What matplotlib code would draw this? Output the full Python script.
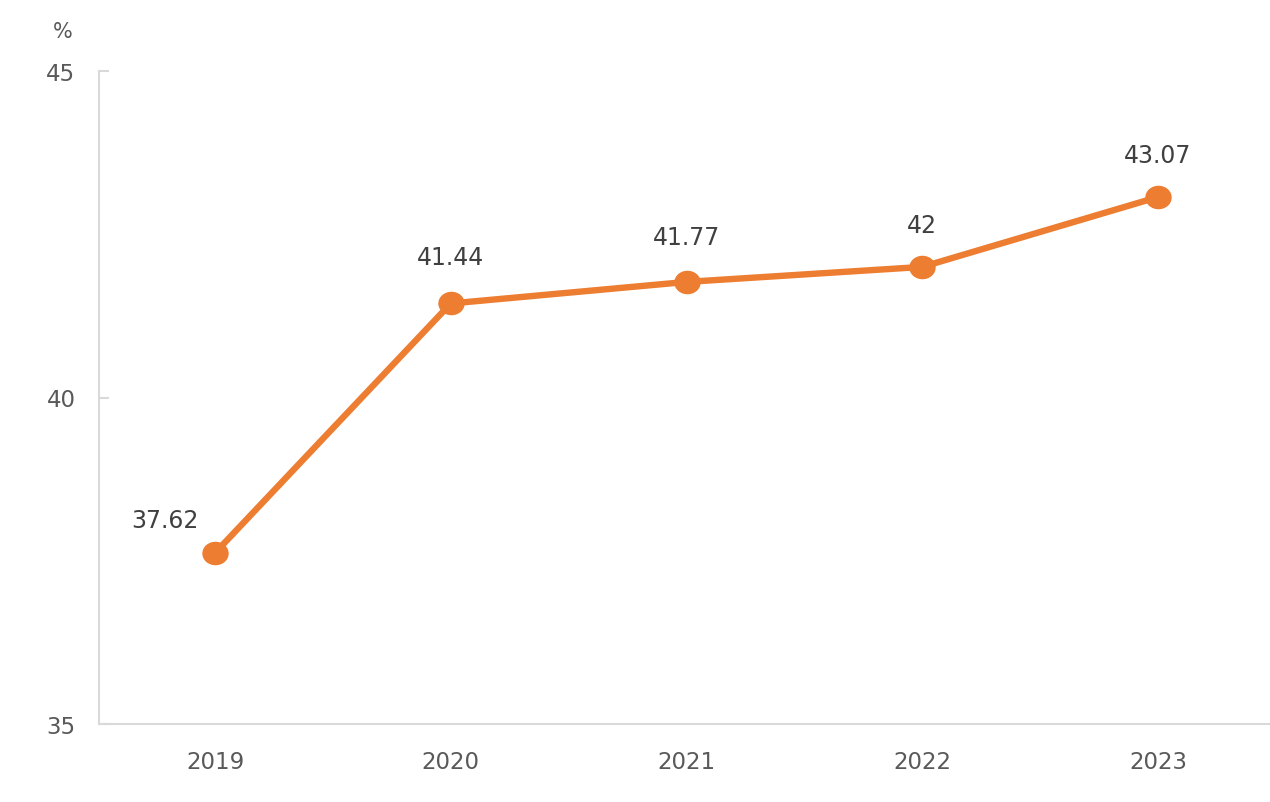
import matplotlib
matplotlib.use("Agg")
import matplotlib.pyplot as plt
from matplotlib.path import Path
from matplotlib.transforms import Affine2D

years = ["2019", "2020", "2021", "2022", "2023"]
values = [37.62, 41.44, 41.77, 42, 43.07]
labels = ["37.62", "41.44", "41.77", "42", "43.07"]
yticks = [35, 40, 45]

plt.rcParams['font.family'] = ['DejaVu Sans']

fig = plt.figure(figsize=(12.7, 8.03), dpi=100)
ax = fig.add_axes([99/1270, 1 - 725/803, 1 - 99/1270, (725 - 72)/803])

ellipse = Path.unit_circle().transformed(Affine2D().scale(1.13, 1.0))

x = list(range(len(years)))
ax.plot(x, values, color="#ED7D31", linewidth=4.6, marker=ellipse, markersize=18,
        solid_capstyle="round", solid_joinstyle="round", zorder=3, clip_on=False)

offsets = [(-50, 33), (0, 46), (0, 45), (0, 42), (0, 42)]
for xi, v, lab, off in zip(x, values, labels, offsets):
    ax.annotate(lab, (xi, v), xytext=off, textcoords="offset pixels",
                ha="center", va="center", fontsize=17, color="#404040")

ax.set_xlim(-(215 - 99)/235.75, 4 + (1270 - 1158)/235.75)
ax.set_ylim(35, 45)
ax.set_xticks(x)
ax.set_xticklabels(years)
ax.set_yticks(yticks)

for s in ["top", "right"]:
    ax.spines[s].set_visible(False)
for s in ["left", "bottom"]:
    ax.spines[s].set_color("#D9D9D9")
    ax.spines[s].set_linewidth(1.5)

ax.tick_params(axis="y", direction="in", length=7.5, width=1.5, color="#D9D9D9",
               labelsize=16.5, labelcolor="#595959", pad=17)
ax.tick_params(axis="x", length=0, labelsize=16.5, labelcolor="#595959", pad=19)

fig.text(63/1270, 1 - 32/803, "%", ha="center", va="center", fontsize=15, color="#595959")

fig.savefig("out.png", dpi=100)
